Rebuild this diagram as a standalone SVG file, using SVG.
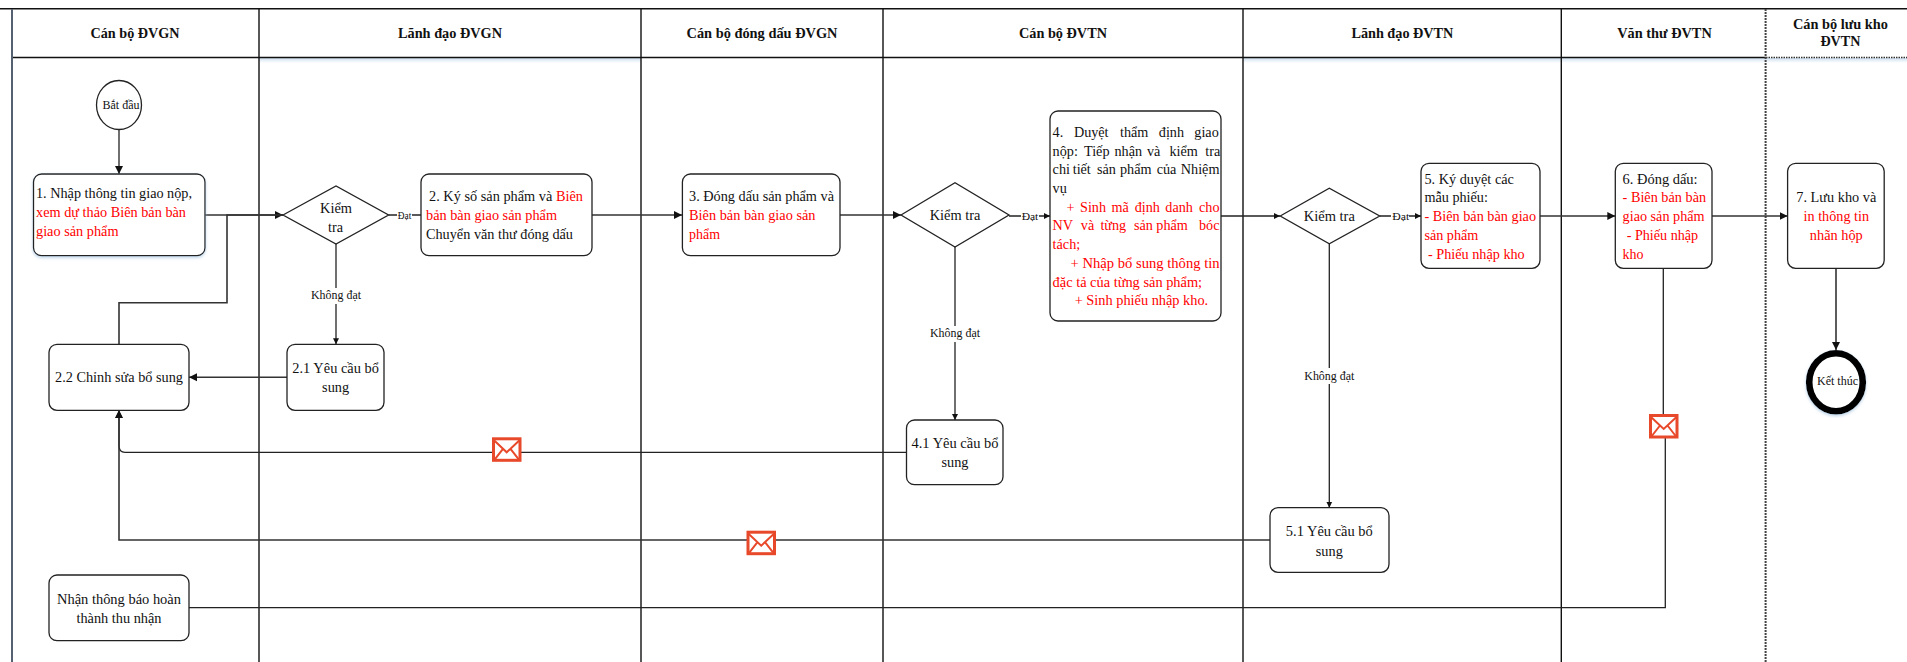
<svg xmlns="http://www.w3.org/2000/svg" xmlns:xlink="http://www.w3.org/1999/xlink" width="1907" height="662" viewBox="0 0 1907 662">
<style>
text{font-family:"Liberation Serif","Times New Roman",serif;font-size:14.2px;fill:#111}
.m{text-anchor:middle}
.h{font-weight:bold;text-anchor:middle;font-size:14px}
.r,.r tspan{fill:#f00}
.s{font-size:12px}
.t{font-size:11px}
.box{fill:#fff;stroke:#222;stroke-width:1.3}
.lane{fill:none;stroke:#111;stroke-width:1.4}
.c{fill:none;stroke:#222;stroke-width:1.3}
.c2{fill:none;stroke:#333;stroke-width:1.6}
.lab{fill:#fff;stroke:none}
</style>
<defs>
<marker id="a" markerUnits="userSpaceOnUse" markerWidth="10" markerHeight="10" refX="8" refY="5" orient="auto"><path d="M0 1L8 5L0 9Z" fill="#111"/></marker>
<marker id="b" markerUnits="userSpaceOnUse" markerWidth="7" markerHeight="8" refX="6" refY="3.5" orient="auto"><path d="M0 0.5L6 3.5L0 6.5Z" fill="#111"/></marker>
<linearGradient id="sh" x1="0" y1="0" x2="0" y2="1"><stop offset="0" stop-color="#cfe0f0"/><stop offset="1" stop-color="#fff"/></linearGradient>
<filter id="ds" x="-10%" y="-10%" width="120%" height="120%"><feDropShadow dx="0" dy="1.5" stdDeviation="1.5" flood-color="#9fc0dc" flood-opacity=".7"/></filter>
<g id="env"><rect x="1.5" y="1.5" width="26.5" height="21.5" fill="#fff" stroke="#e8492a" stroke-width="3"/><path d="M2 3L14.7 15L27.5 3M2 23L11 11.5M27.5 23L18.5 11.5" fill="none" stroke="#e8492a" stroke-width="2"/></g>
</defs>

<g id="swimlanes">
<rect x="259" y="58" width="382" height="5" fill="url(#sh)"/>
<rect x="1243" y="58" width="664" height="5" fill="url(#sh)"/>
<path class="lane" d="M0 8.7H1907M12 57.5H1766"/>
<path d="M12 9V662" fill="none" stroke="#556070" stroke-width="2"/>
<path class="lane" d="M259 9V662M641 9V662M883 9V662M1243 9V662M1561.3 9V662"/>
<path d="M1766 57.5H1907" fill="none" stroke="#333" stroke-width="1.4" stroke-dasharray="1.5 1"/>
<path d="M1765.6 9V662" fill="none" stroke="#444" stroke-width="2" stroke-dasharray="2 1"/>
<text class="h" x="135" y="37.7" textLength="89" lengthAdjust="spacingAndGlyphs">Cán bộ ĐVGN</text>
<text class="h" x="450" y="37.7" textLength="104" lengthAdjust="spacingAndGlyphs">Lãnh đạo ĐVGN</text>
<text class="h" x="762" y="37.7" textLength="151" lengthAdjust="spacingAndGlyphs">Cán bộ đóng dấu ĐVGN</text>
<text class="h" x="1063" y="37.7" textLength="88" lengthAdjust="spacingAndGlyphs">Cán bộ ĐVTN</text>
<text class="h" x="1402.4" y="37.7" textLength="102" lengthAdjust="spacingAndGlyphs">Lãnh đạo ĐVTN</text>
<text class="h" x="1664.5" y="37.7" textLength="94.5" lengthAdjust="spacingAndGlyphs">Văn thư ĐVTN</text>
<text class="h" x="1840.4" y="28.7" textLength="95" lengthAdjust="spacingAndGlyphs">Cán bộ lưu kho</text>
<text class="h" x="1840.4" y="46.3" textLength="40" lengthAdjust="spacingAndGlyphs">ĐVTN</text>
</g>

<g id="connectors">
<path class="c" d="M119 129.5V174" marker-end="url(#a)"/>
<path class="c2" d="M205 215H283" marker-end="url(#a)"/>
<path class="c2" d="M119 344.3V302.7H227V215H283"/>
<path class="c" d="M388.6 215H421"/>
<path class="c2" d="M592 215H682" marker-end="url(#a)"/>
<path class="c2" d="M840 215H901" marker-end="url(#a)"/>
<path class="c" d="M1009 216H1050" marker-end="url(#b)"/>
<path class="c" d="M1221 216H1280" marker-end="url(#b)"/>
<path class="c" d="M1379.7 216H1421" marker-end="url(#b)"/>
<path class="c2" d="M1540 216H1615.3" marker-end="url(#a)"/>
<path class="c2" d="M1712 216H1787.6" marker-end="url(#a)"/>
<path class="c2" d="M1836 268.3V350" marker-end="url(#a)"/>
<path class="c" d="M336 244V344.3" marker-end="url(#b)"/>
<path class="c2" d="M287 377.3H189" marker-end="url(#a)"/>
<path class="c" d="M906.5 452.3H125Q119 452.3 119 446V410.3" marker-end="url(#a)"/>
<path class="c2" d="M1270 540H119V410.3" marker-end="url(#a)"/>
<path class="c" d="M955 247V420" marker-end="url(#b)"/>
<path class="c" d="M1329.3 243.7V507.7" marker-end="url(#b)"/>
<path class="c" d="M1663.3 268.3V414M1665.3 436V607.7H189"/>
<rect class="lab" x="397" y="206" width="15" height="16"/>
<text class="t m" x="404.5" y="218.5" textLength="13.5" lengthAdjust="spacingAndGlyphs">Đạt</text>
<rect class="lab" x="1021" y="207" width="18" height="16"/>
<text class="t m" x="1030" y="220" textLength="16.7" lengthAdjust="spacingAndGlyphs">Đạt</text>
<rect class="lab" x="1391" y="207" width="18" height="16"/>
<text class="t m" x="1400.8" y="220" textLength="17" lengthAdjust="spacingAndGlyphs">Đạt</text>
<rect class="lab" x="310" y="288" width="52" height="16"/>
<text class="s m" x="336" y="299" textLength="50" lengthAdjust="spacingAndGlyphs">Không đạt</text>
<rect class="lab" x="929" y="326" width="52" height="16"/>
<text class="s m" x="955" y="337.3" textLength="50" lengthAdjust="spacingAndGlyphs">Không đạt</text>
<rect class="lab" x="1303" y="368" width="52" height="16"/>
<text class="s m" x="1329.3" y="380" textLength="50" lengthAdjust="spacingAndGlyphs">Không đạt</text>
<use xlink:href="#env" href="#env" x="492" y="437.3"/>
<use xlink:href="#env" href="#env" x="746.5" y="530.7"/>
<use xlink:href="#env" href="#env" x="1649" y="414"/>
</g>

<g id="start"><ellipse class="box" cx="119" cy="105" rx="22.5" ry="24.5"/>
<text class="s m" x="121" y="109" textLength="37" lengthAdjust="spacingAndGlyphs">Bắt đầu</text></g>

<g id="n1"><rect class="box" x="33.5" y="174" width="171.5" height="81.7" rx="8" filter="url(#ds)"/>
<text x="36" y="198.3" textLength="156" lengthAdjust="spacingAndGlyphs">1. Nhập thông tin giao nộp,</text>
<text class="r" x="36" y="217.3" textLength="150" lengthAdjust="spacingAndGlyphs">xem dự thảo Biên bản bàn</text>
<text class="r" x="36" y="236.3" textLength="82.5" lengthAdjust="spacingAndGlyphs">giao sản phẩm</text></g>

<g id="d1"><path class="box" d="M283 215L336 186L388.6 215L336 244Z"/>
<text class="m" x="336" y="213.3" textLength="32" lengthAdjust="spacingAndGlyphs">Kiểm</text>
<text class="m" x="335.5" y="231.7" textLength="15" lengthAdjust="spacingAndGlyphs">tra</text></g>

<g id="n2"><rect class="box" x="421" y="174" width="171" height="81.7" rx="8"/>
<text x="429" y="201" textLength="154" lengthAdjust="spacingAndGlyphs">2. Ký số sản phẩm và <tspan style="fill:#f00">Biên</tspan></text>
<text class="r" x="426" y="220" textLength="131" lengthAdjust="spacingAndGlyphs">bản bàn giao sản phẩm</text>
<text x="426" y="239" textLength="147" lengthAdjust="spacingAndGlyphs">Chuyển văn thư đóng dấu</text></g>

<g id="n3"><rect class="box" x="682.4" y="174" width="157.6" height="81.7" rx="8"/>
<text x="689" y="201" textLength="145" lengthAdjust="spacingAndGlyphs">3. Đóng dấu sản phẩm và</text>
<text class="r" x="689" y="220" textLength="126.5" lengthAdjust="spacingAndGlyphs">Biên bản bàn giao sản</text>
<text class="r" x="689" y="239" textLength="31" lengthAdjust="spacingAndGlyphs">phẩm</text></g>

<g id="d2"><path class="box" d="M901 215L955 182.7L1009 215L955 247Z"/>
<text class="m" x="955" y="220" textLength="50.6" lengthAdjust="spacingAndGlyphs">Kiểm tra</text></g>

<g id="n4"><rect class="box" x="1050" y="111" width="171" height="210" rx="8"/>
<text y="137.3"><tspan x="1052.6">4.</tspan><tspan x="1073.9">Duyệt</tspan><tspan x="1120">thẩm</tspan><tspan x="1158.8">định</tspan><tspan x="1194.3">giao</tspan></text>
<text y="156"><tspan x="1052.6">nộp:</tspan><tspan x="1084">Tiếp</tspan><tspan x="1114.5">nhận</tspan><tspan x="1147">và</tspan><tspan x="1169.4">kiểm</tspan><tspan x="1205.3">tra</tspan></text>
<text y="174.3"><tspan x="1052.6">chi</tspan><tspan x="1072.7">tiết</tspan><tspan x="1097">sản</tspan><tspan x="1120">phẩm</tspan><tspan x="1156.7">của</tspan><tspan x="1180.8">Nhiệm</tspan></text>
<text x="1052.6" y="192.7">vụ</text>
<text class="r" y="212"><tspan x="1066.5">+</tspan><tspan x="1080">Sinh</tspan><tspan x="1111.4">mã</tspan><tspan x="1134.7">định</tspan><tspan x="1165.3">danh</tspan><tspan x="1199">cho</tspan></text>
<text class="r" y="230.3"><tspan x="1052.6">NV</tspan><tspan x="1080.8">và</tspan><tspan x="1100.4">từng</tspan><tspan x="1134">sản</tspan><tspan x="1156.3">phẩm</tspan><tspan x="1199">bóc</tspan></text>
<text class="r" x="1052.6" y="249">tách;</text>
<text class="r" x="1070.6" y="268.3" textLength="149" lengthAdjust="spacingAndGlyphs">+ Nhập bổ sung thông tin</text>
<text class="r" x="1052.6" y="286.7" textLength="149.5" lengthAdjust="spacingAndGlyphs">đặc tả của từng sản phẩm;</text>
<text class="r" x="1074.7" y="305" textLength="133.5" lengthAdjust="spacingAndGlyphs">+ Sinh phiếu nhập kho.</text>
</g>

<g id="n41"><rect class="box" x="906.5" y="420" width="96.5" height="64.7" rx="8"/>
<text class="m" x="955" y="448.3" textLength="87" lengthAdjust="spacingAndGlyphs">4.1 Yêu cầu bổ</text>
<text class="m" x="955" y="467.3" textLength="27" lengthAdjust="spacingAndGlyphs">sung</text></g>

<g id="d3"><path class="box" d="M1280.2 216L1329.3 188.3L1379.7 216L1329.3 243.7Z"/>
<text class="m" x="1329.3" y="221" textLength="51" lengthAdjust="spacingAndGlyphs">Kiểm tra</text></g>

<g id="n5"><rect class="box" x="1421" y="163.3" width="119" height="105" rx="8"/>
<text x="1424.4" y="184.3" textLength="89.5" lengthAdjust="spacingAndGlyphs">5. Ký duyệt các</text>
<text x="1424.4" y="202.3" textLength="63.5" lengthAdjust="spacingAndGlyphs">mẫu phiếu:</text>
<text class="r" x="1424.4" y="221.3" textLength="111.7" lengthAdjust="spacingAndGlyphs">- Biên bản bàn giao</text>
<text class="r" x="1424.4" y="240.3" textLength="54" lengthAdjust="spacingAndGlyphs">sản phẩm</text>
<text class="r" x="1428" y="259.3" textLength="96.7" lengthAdjust="spacingAndGlyphs">- Phiếu nhập kho</text></g>

<g id="n51"><rect class="box" x="1270" y="507.7" width="119" height="64.6" rx="8"/>
<text class="m" x="1329.3" y="536" textLength="87" lengthAdjust="spacingAndGlyphs">5.1 Yêu cầu bổ</text>
<text class="m" x="1329.3" y="555.7" textLength="27" lengthAdjust="spacingAndGlyphs">sung</text></g>

<g id="n6"><rect class="box" x="1615.3" y="163.3" width="96.7" height="105" rx="8"/>
<text x="1622.6" y="184.3" textLength="75" lengthAdjust="spacingAndGlyphs">6. Đóng dấu:</text>
<text class="r" x="1622.6" y="202.3" textLength="83.5" lengthAdjust="spacingAndGlyphs">- Biên bản bàn</text>
<text class="r" x="1622.6" y="221.3" textLength="82" lengthAdjust="spacingAndGlyphs">giao sản phẩm</text>
<text class="r" x="1626.7" y="240.3" textLength="71.5" lengthAdjust="spacingAndGlyphs">- Phiếu nhập</text>
<text class="r" x="1622.6" y="259.3" textLength="21" lengthAdjust="spacingAndGlyphs">kho</text></g>

<g id="n7"><rect class="box" x="1787.6" y="163.3" width="96.6" height="105" rx="8"/>
<text class="m" x="1836.3" y="202.3" textLength="80" lengthAdjust="spacingAndGlyphs">7. Lưu kho và</text>
<text class="r m" x="1836.3" y="221.3" textLength="65.5" lengthAdjust="spacingAndGlyphs">in thông tin</text>
<text class="r m" x="1836.3" y="240.3" textLength="53" lengthAdjust="spacingAndGlyphs">nhãn hộp</text></g>

<g id="end"><ellipse cx="1836" cy="382.3" rx="26.8" ry="29" fill="#fff" stroke="#000" stroke-width="6.6" filter="url(#ds)"/>
<text class="s m" x="1837.5" y="385" textLength="41" lengthAdjust="spacingAndGlyphs">Kết thúc</text></g>

<g id="n21"><rect class="box" x="287" y="344.3" width="97" height="66" rx="8"/>
<text class="m" x="335.6" y="373.3" textLength="86.5" lengthAdjust="spacingAndGlyphs">2.1 Yêu cầu bổ</text>
<text class="m" x="335.6" y="392.3" textLength="27" lengthAdjust="spacingAndGlyphs">sung</text></g>

<g id="n22"><rect class="box" x="49" y="344.3" width="140" height="66" rx="8"/>
<text class="m" x="119" y="382.3" textLength="128" lengthAdjust="spacingAndGlyphs">2.2 Chỉnh sửa bổ sung</text></g>

<g id="n0"><rect class="box" x="49" y="575" width="140" height="65.7" rx="8"/>
<text class="m" x="119" y="604.3" textLength="124" lengthAdjust="spacingAndGlyphs">Nhận thông báo hoàn</text>
<text class="m" x="119" y="623.3" textLength="85" lengthAdjust="spacingAndGlyphs">thành thu nhận</text></g>
</svg>
